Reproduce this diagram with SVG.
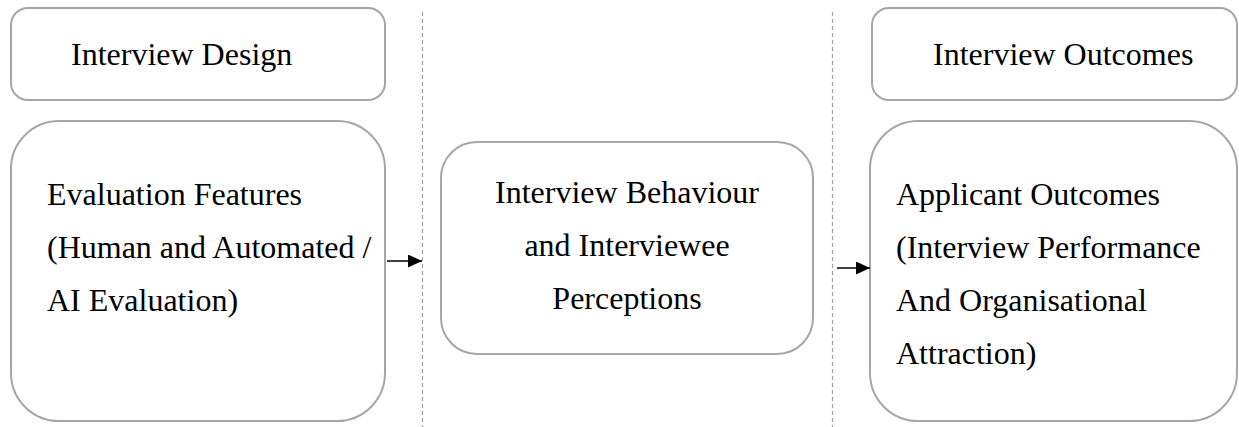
<svg xmlns="http://www.w3.org/2000/svg" width="1239" height="427" viewBox="0 0 1239 427">
<style>
.box{fill:#fff;stroke:#a6a6a6;stroke-width:2}
.t{font-size:32px;fill:#000}
.c{text-anchor:middle}
.sep{stroke:#a0a0a0;stroke-width:1.2;stroke-dasharray:4 3;fill:none}
.arr{stroke:#000;stroke-width:1.4;fill:none}
</style>
<defs>
<marker id="ah" viewBox="0 0 10 10" refX="10" refY="5" markerWidth="14" markerHeight="13" markerUnits="userSpaceOnUse" orient="auto" preserveAspectRatio="none">
<path d="M0,0 L10,5 L0,10 Z" fill="#000"/>
</marker>
</defs>
<rect width="1239" height="427" fill="#fff"/>
<g id="separators">
<line class="sep" x1="422.5" y1="12" x2="422.5" y2="427"/>
<line class="sep" x1="832.5" y1="12" x2="832.5" y2="427"/>
</g>
<g font-family="Liberation Serif, Times New Roman, DejaVu Serif, serif">
<g id="node-interview-design">
<rect class="box" x="11" y="8" width="374" height="92" rx="17"/>
<text class="t" x="71" y="65">Interview Design</text>
</g>
<g id="node-evaluation-features">
<rect class="box" x="11" y="121" width="374" height="300" rx="48"/>
<text class="t" x="47" y="205">Evaluation Features</text>
<text class="t" x="47" y="258">(Human and Automated /</text>
<text class="t" x="47" y="311">AI Evaluation)</text>
</g>
<g id="node-interview-behaviour">
<rect class="box" x="441" y="142" width="372" height="212" rx="36"/>
<text class="t c" x="627" y="203">Interview Behaviour</text>
<text class="t c" x="627" y="256">and Interviewee</text>
<text class="t c" x="627" y="309">Perceptions</text>
</g>
<g id="node-interview-outcomes">
<rect class="box" x="872" y="8" width="365" height="92" rx="17"/>
<text class="t" x="933" y="65">Interview Outcomes</text>
</g>
<g id="node-applicant-outcomes">
<rect class="box" x="870" y="121" width="367" height="300" rx="48"/>
<text class="t" x="896" y="205">Applicant Outcomes</text>
<text class="t" x="896" y="258">(Interview Performance</text>
<text class="t" x="896" y="311">And Organisational</text>
<text class="t" x="896" y="364">Attraction)</text>
</g>
</g>
<g id="connectors">
<line class="arr" x1="387" y1="261" x2="422" y2="261" marker-end="url(#ah)"/>
<line class="arr" x1="837" y1="268" x2="870" y2="268" marker-end="url(#ah)"/>
</g>
</svg>
